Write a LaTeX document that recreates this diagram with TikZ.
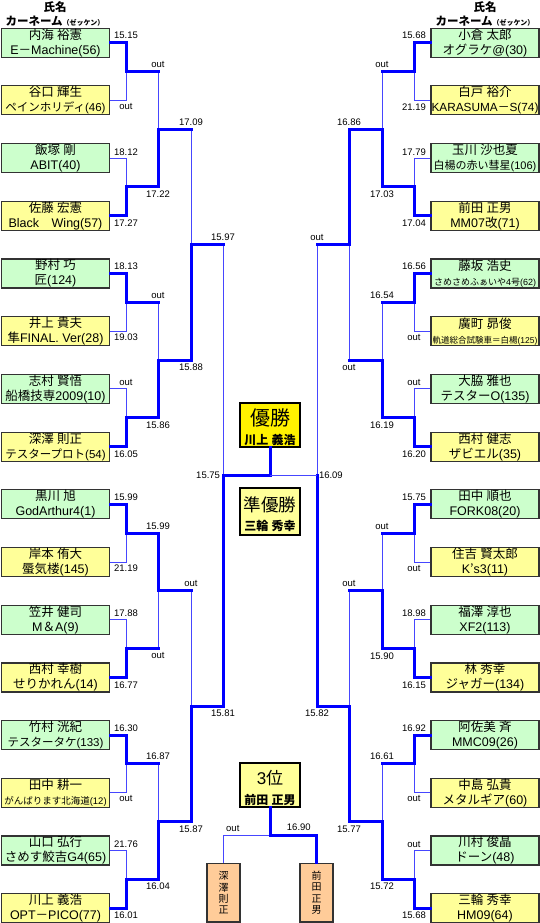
\documentclass[tikz,border=0pt]{standalone}
\usepackage{fontspec}
\setmainfont{Liberation Sans}
\newfontfamily\jpfont{Noto Sans CJK JP}
% kana, kanji and full width signs in the Japanese font
\XeTeXinterchartokenstate=1
\newXeTeXintercharclass\jpclass
\newcount\jpc
\jpc="3000
\loop\ifnum\jpc<"A000 \XeTeXcharclass\jpc=\jpclass \advance\jpc by 1 \repeat
\jpc="FF00
\loop\ifnum\jpc<"FFF0 \XeTeXcharclass\jpc=\jpclass \advance\jpc by 1 \repeat
\XeTeXcharclass"2019=\jpclass
\XeTeXinterchartoks 0 \jpclass = {\jpfont}
\XeTeXinterchartoks 4095 \jpclass = {\jpfont}
\XeTeXinterchartoks \jpclass 0 = {\rmfamily}
\XeTeXinterchartoks \jpclass 4095 = {\rmfamily}
\usepackage{tikz}
\definecolor{wonblue}{RGB}{0,0,255}
\definecolor{lostblue}{RGB}{70,70,255}
\definecolor{gfill}{RGB}{204,255,204}
\definecolor{yfill}{RGB}{255,255,153}
\definecolor{pfill}{RGB}{255,204,153}
\newcommand\carsize[1]{\fontsize{#1}{15}\selectfont}

\begin{document}
\begin{tikzpicture}[x=1pt,y=-1pt,
 won/.style={draw=wonblue,line width=3pt,line cap=rect},
 lost/.style={draw=lostblue,line width=1pt},
 lab/.style={font=\fontsize{9.5}{10}\selectfont,inner sep=2.5pt},
 gbox/.style={draw=black!80,line width=1.2pt,fill=gfill,minimum width=108pt,minimum height=29pt,inner sep=0pt,align=center,font=\carsize{12.5}},
 ybox/.style={gbox,fill=yfill},
 cbox/.style={draw=black,line width=1.5pt,fill=yfill,minimum width=60pt,minimum height=44pt,inner sep=0pt},
 pbox/.style={draw=black!80,line width=1.2pt,fill=pfill,minimum width=33pt,minimum height=58.5pt,inner sep=0pt,align=center,font=\fontsize{10}{11.3}\selectfont},
 hd/.style={inner sep=0pt,font=\bfseries\fontsize{11.5}{12}\selectfont}]
\useasboundingbox (0,0) rectangle (540,923);

% headings
\node[hd] (hL1) at (55,7.5) {氏名};
\node[hd] (hL2) at (55,21.5) {カーネーム{\fontsize{7}{7}\selectfont（ゼッケン）}};
\node[hd] (hR1) at (485,7.5) {氏名};
\node[hd] (hR2) at (485,21.5) {カーネーム{\fontsize{7}{7}\selectfont（ゼッケン）}};

% entrants
\foreach \i/\c/\n/\m in {1/gbox/内海 裕憲/E－Machine(56),2/ybox/谷口 輝生/\carsize{11.5}ペインホリディ(46),
 3/gbox/飯塚 剛/ABIT(40),4/ybox/佐藤 宏憲/Black　Wing(57),5/gbox/野村 巧/匠(124),
 6/ybox/井上 貴夫/隼FINAL. Ver(28),7/gbox/志村 賢悟/船橋技専2009(10),
 8/ybox/深澤 則正/\carsize{11.5}テスタープロト(54),9/gbox/黒川 旭/GodArthur4(1),
 10/ybox/岸本 侑大/蜃気楼(145),11/gbox/笠井 健司/M＆A(9),12/ybox/西村 幸樹/せりかれん(14),
 13/gbox/竹村 洸紀/\carsize{11.5}テスタータケ(133),14/ybox/田中 耕一/\carsize{9.5}がんばります北海道(12),
 15/gbox/山口 弘行/さめす鮫吉G4(65),16/ybox/川上 義浩/OPT－PICO(77)}
 \node[\c] (L\i) at (55.5,{42.7+57.7*(\i-1)}) {\n\\\m};
\foreach \i/\c/\n/\m in {1/gbox/小倉 太郎/オグラケ@(30),2/ybox/白戸 裕介/\carsize{11.8}KARASUMA－S(74),
 3/gbox/玉川 沙也夏/\carsize{11}白楊の赤い彗星(106),4/ybox/前田 正男/MM07改(71),
 5/gbox/藤坂 浩史/\carsize{9}さめさめふぁいや4号(62),6/ybox/廣町 昴俊/\carsize{8.5}軌道総合試験車＝白楊(125),
 7/gbox/大脇 雅也/テスターO(135),8/ybox/西村 健志/ザビエル(35),9/gbox/田中 順也/FORK08(20),
 10/ybox/住吉 賢太郎/K’s3(11),11/gbox/福澤 淳也/XF2(113),12/ybox/林 秀幸/ジャガー(134),
 13/gbox/阿佐美 斉/MMC09(26),14/ybox/中島 弘貴/メタルギア(60),15/gbox/川村 俊晶/ドーン(48),
 16/ybox/三輪 秀幸/HM09(64)}
 \node[\c] (R\i) at (485,{42.7+57.7*(\i-1)}) {\n\\\m};

% joints of the rounds
\foreach \k in {1,...,8} {
 \coordinate (La\k) at (126,{42.7+57.7*(2*\k-1.5)});
 \coordinate (Ra\k) at (414,{42.7+57.7*(2*\k-1.5)});
}
\foreach \k in {1,...,4} {
 \coordinate (Lb\k) at (158,{42.7+57.7*(4*\k-2.5)});
 \coordinate (Rb\k) at (382,{42.7+57.7*(4*\k-2.5)});
}
\foreach \k in {1,2} {
 \coordinate (Lc\k) at (191,{42.7+57.7*(8*\k-4.5)});
 \coordinate (Rc\k) at (349,{42.7+57.7*(8*\k-4.5)});
}
\coordinate (Ld) at (223,475.45);
\coordinate (Rd) at (317,475.45);

% first round
\foreach \b/\j/\s/\t/\p in {L1/La1/won/15.15/above,L2/La1/lost/out/below,L3/La2/lost/18.12/above,
 L4/La2/won/17.27/below,L5/La3/won/18.13/above,L6/La3/lost/19.03/below,L7/La4/lost/out/above,
 L8/La4/won/16.05/below,L9/La5/won/15.99/above,L10/La5/lost/21.19/below,L11/La6/lost/17.88/above,
 L12/La6/won/16.77/below,L13/La7/won/16.30/above,L14/La7/lost/out/below,L15/La8/lost/21.76/above,
 L16/La8/won/16.01/below}
 \draw[\s] (\b.east) -| node[lab,\p] (t\b) {\t} (\j);
\foreach \b/\j/\s/\t/\p in {R1/Ra1/won/15.68/above,R2/Ra1/lost/21.19/below,R3/Ra2/lost/17.79/above,
 R4/Ra2/won/17.04/below,R5/Ra3/won/16.56/above,R6/Ra3/lost/out/below,R7/Ra4/lost/out/above,
 R8/Ra4/won/16.20/below,R9/Ra5/won/15.75/above,R10/Ra5/lost/out/below,R11/Ra6/lost/18.98/above,
 R12/Ra6/won/16.15/below,R13/Ra7/won/16.92/above,R14/Ra7/lost/out/below,R15/Ra8/lost/out/above,
 R16/Ra8/won/15.68/below}
 \draw[\s] (\b.west) -| node[lab,\p] (t\b) {\t} (\j);

% later rounds
\foreach \a/\j/\s/\t/\p in {La1/Lb1/lost/out/above,La2/Lb1/won/17.22/below,La3/Lb2/lost/out/above,
 La4/Lb2/won/15.86/below,La5/Lb3/won/15.99/above,La6/Lb3/lost/out/below,La7/Lb4/lost/16.87/above,
 La8/Lb4/won/16.04/below,Lb1/Lc1/lost/17.09/above,Lb2/Lc1/won/15.88/below,Lb3/Lc2/lost/out/above,
 Lb4/Lc2/won/15.87/below,Lc1/Ld/lost/15.97/above,Lc2/Ld/won/15.81/below,
 Ra1/Rb1/lost/out/above,Ra2/Rb1/won/17.03/below,Ra3/Rb2/lost/16.54/above,Ra4/Rb2/won/16.19/below,
 Ra5/Rb3/lost/out/above,Ra6/Rb3/won/15.90/below,Ra7/Rb4/lost/16.61/above,Ra8/Rb4/won/15.72/below,
 Rb1/Rc1/won/16.86/above,Rb2/Rc1/lost/out/below,Rb3/Rc2/lost/out/above,Rb4/Rc2/won/15.77/below,
 Rc1/Rd/lost/out/above,Rc2/Rd/won/15.82/below} {
 \draw[\s] (\a -| \j) -- (\j);
 \draw[won] (\a) -- (\a -| \j) node[lab,\p] (t\a) {\t};
}

% final
\node[cbox,fill=yellow] (W) at (270,425) {};
\node[inner sep=0pt,font=\fontsize{20}{20}\selectfont] (Wt) at (270,418) {優勝};
\node[inner sep=0pt,font=\bfseries\fontsize{12}{12}\selectfont] (Wn) at (270,440) {川上 義浩};
\node[cbox,minimum height=47pt] (S) at (270,511.5) {};
\node[inner sep=0pt,font=\fontsize{17.5}{18}\selectfont] (St) at (270,504.5) {準優勝};
\node[inner sep=0pt,font=\bfseries\fontsize{12}{12}\selectfont] (Sn) at (270,526) {三輪 秀幸};
\coordinate (F) at (W.south |- Ld);
\draw[won] (Ld) node[lab,anchor=east,inner sep=1.5pt] (tLd) {15.75} -- (F) -- (W.south);
\draw[lost] (F) -- (Rd) node[lab,anchor=west,inner sep=1.5pt] (tRd) {16.09};

% third place
\node[cbox] (P) at (270,785) {};
\node[inner sep=0pt,font=\fontsize{17}{18}\selectfont] (Pt) at (270,778.5) {3位};
\node[inner sep=0pt,font=\bfseries\fontsize{12}{12}\selectfont] (Pn) at (270,800) {前田 正男};
\node[pbox] (P1) at (223.5,892.75) {深\\澤\\則\\正};
\node[pbox] (P2) at (316.5,892.75) {前\\田\\正\\男};
\coordinate (T3) at (270,835);
\draw[lost] (T3) -| node[lab,above,pos=0.4] (tP1) {out} (P1.north);
\draw[won] (P.south) -- (T3) -| node[lab,above,pos=0.31] (tP2) {16.90} (P2.north);
\end{tikzpicture}
\end{document}
